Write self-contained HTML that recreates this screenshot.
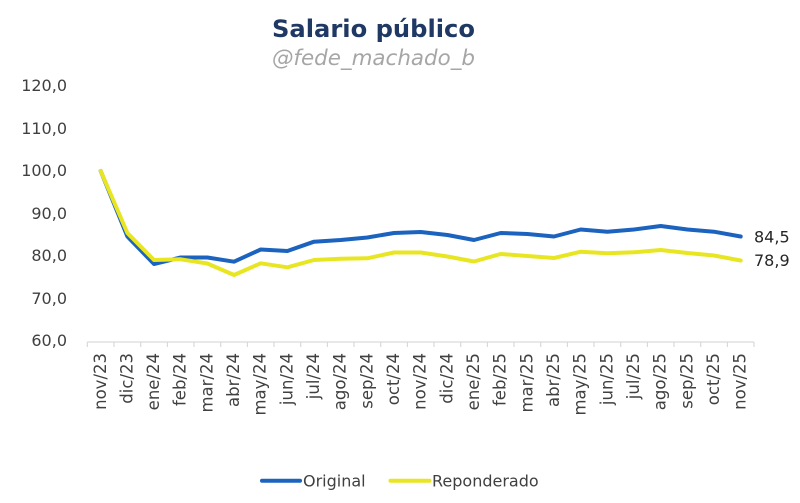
<!DOCTYPE html>
<html><head><meta charset="utf-8"><style>
html,body{margin:0;padding:0;background:#fff;}
svg{display:block;}
text{font-family:"DejaVu Sans","Liberation Sans",sans-serif;}
</style></head><body>
<svg width="800" height="503" viewBox="0 0 800 503" xmlns="http://www.w3.org/2000/svg">
<rect width="800" height="503" fill="#fff"/>
<text x="373.5" y="37" text-anchor="middle" font-size="24" font-weight="bold" fill="#1F3864" textLength="203" lengthAdjust="spacingAndGlyphs">Salario público</text>
<text x="373.5" y="65" text-anchor="middle" font-size="21" font-style="italic" fill="#A6A6A6" textLength="203" lengthAdjust="spacingAndGlyphs">@fede_machado_b</text>
<g font-size="16" fill="#404040" text-anchor="end">
<text x="67" y="91">120,0</text>
<text x="67" y="134">110,0</text>
<text x="67" y="176">100,0</text>
<text x="67" y="219">90,0</text>
<text x="67" y="261">80,0</text>
<text x="67" y="304">70,0</text>
<text x="67" y="346">60,0</text>
</g>
<g stroke="#D9D9D9" stroke-width="1.2" fill="none">
<line x1="87.3" y1="342" x2="754" y2="342"/>
<path d="M87.3 342v5M114 342v5M140.7 342v5M167.4 342v5M194 342v5M220.7 342v5M247.4 342v5M274 342v5M300.7 342v5M327.4 342v5M354 342v5M380.7 342v5M407.4 342v5M434 342v5M460.7 342v5M487.4 342v5M514 342v5M540.7 342v5M567.4 342v5M594 342v5M620.7 342v5M647.4 342v5M674 342v5M700.7 342v5M727.4 342v5M754 342v5"/>
</g>
<g font-size="16.5" fill="#404040" text-anchor="end">
<text transform="translate(106,353) rotate(-90)">nov/23</text>
<text transform="translate(132.4,353) rotate(-90)">dic/23</text>
<text transform="translate(159,353) rotate(-90)">ene/24</text>
<text transform="translate(185.7,353) rotate(-90)">feb/24</text>
<text transform="translate(212.4,353) rotate(-90)">mar/24</text>
<text transform="translate(239,353) rotate(-90)">abr/24</text>
<text transform="translate(265.7,353) rotate(-90)">may/24</text>
<text transform="translate(292.4,353) rotate(-90)">jun/24</text>
<text transform="translate(319,353) rotate(-90)">jul/24</text>
<text transform="translate(345.7,353) rotate(-90)">ago/24</text>
<text transform="translate(372.4,353) rotate(-90)">sep/24</text>
<text transform="translate(399,353) rotate(-90)">oct/24</text>
<text transform="translate(425.7,353) rotate(-90)">nov/24</text>
<text transform="translate(452.4,353) rotate(-90)">dic/24</text>
<text transform="translate(479,353) rotate(-90)">ene/25</text>
<text transform="translate(505.7,353) rotate(-90)">feb/25</text>
<text transform="translate(532.4,353) rotate(-90)">mar/25</text>
<text transform="translate(559,353) rotate(-90)">abr/25</text>
<text transform="translate(585.7,353) rotate(-90)">may/25</text>
<text transform="translate(612.4,353) rotate(-90)">jun/25</text>
<text transform="translate(639,353) rotate(-90)">jul/25</text>
<text transform="translate(665.7,353) rotate(-90)">ago/25</text>
<text transform="translate(692.4,353) rotate(-90)">sep/25</text>
<text transform="translate(719,353) rotate(-90)">oct/25</text>
<text transform="translate(745.7,353) rotate(-90)">nov/25</text>
</g>
<polyline fill="none" stroke="#1B63BE" stroke-width="4" stroke-linejoin="round" stroke-linecap="round" points="100.7,171 127.4,236.5 154,264 180.7,257.5 207.4,257.5 234,261.7 260.7,249.5 287.4,251 314,241.7 340.7,240 367.4,237.5 394,233 420.7,232 447.4,235 474,240 500.7,233 527.4,234 554,236.5 580.7,229.5 607.4,231.7 634,229.5 660.7,226 687.4,229.5 714,231.7 740.7,236.5"/>
<polyline fill="none" stroke="#E8E622" stroke-width="4" stroke-linejoin="round" stroke-linecap="round" points="100.7,171 127.4,233 154,260 180.7,259.3 207.4,263.5 234,275 260.7,263.3 287.4,267.3 314,260 340.7,258.7 367.4,258.3 394,252.5 420.7,252.5 447.4,256.5 474,261.5 500.7,254 527.4,256 554,258 580.7,251.7 607.4,253.3 634,252.3 660.7,250 687.4,253 714,255.5 740.7,260.5"/>
<g font-size="16" fill="#262626">
<text x="754" y="242.5">84,5</text>
<text x="754" y="266">78,9</text>
</g>
<line x1="262" y1="480.7" x2="300" y2="480.7" stroke="#1B63BE" stroke-width="4" stroke-linecap="round"/>
<text x="303" y="486.5" font-size="16" fill="#404040">Original</text>
<line x1="390.5" y1="480.7" x2="429.5" y2="480.7" stroke="#E8E622" stroke-width="4" stroke-linecap="round"/>
<text x="432" y="486.5" font-size="16" fill="#404040">Reponderado</text>
</svg>
</body></html>
